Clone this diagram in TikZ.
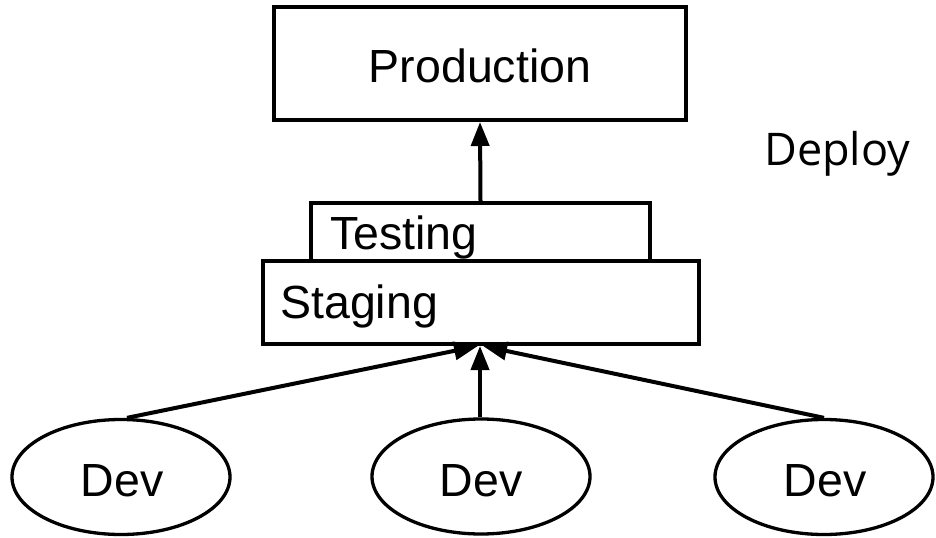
\documentclass[tikz,border=0pt]{standalone}
\usepackage{fontspec}
\setmainfont{Liberation Sans}
\newfontfamily\deployfont{Open Sans}
\usetikzlibrary{shapes.geometric,arrows.meta}

\begin{document}
\begin{tikzpicture}[x=1bp,y=-1bp,
  box/.style={draw,line width=4bp,fill=white,inner sep=0pt,rectangle},
  devnode/.style={draw,line width=3.3bp,ellipse,inner sep=0pt,
    minimum width=218bp,minimum height=115bp},
  lbl/.style={inner sep=0pt,font=\fontsize{46.5bp}{56bp}\selectfont},
  link/.style={line width=4bp,-{Triangle[length=24bp,width=18bp]}}]
\useasboundingbox (0,0) rectangle (936,538);

% environment boxes
\node[box,minimum width=412bp,minimum height=113bp] (prod) at (480,63.5) {};
\node[box,minimum width=339bp,minimum height=58bp] (test) at (480.5,232) {};
\node[box,minimum width=436bp,minimum height=83bp] (stag) at (481,302.5) {};

% box captions
\node[lbl,anchor=base] (prodtxt) at (480,83) {Production};
\node[lbl,anchor=base west] (testtxt) at (330,250) {Testing};
\node[lbl,anchor=base west] (stagtxt) at (280,319) {Staging};

% side caption
\node[inner sep=0pt,anchor=base west,font=\deployfont\fontsize{45bp}{54bp}\selectfont]
  (deploy) at (764,166) {Deploy};

% developer machines
\node[devnode] (dev1) at (121,477) {};
\node[devnode] (dev2) at (481,476.5) {};
\node[devnode] (dev3) at (824,477) {};
\node[lbl,anchor=base] (dev1txt) at (122,496) {Dev};
\node[lbl,anchor=base] (dev2txt) at (481,496) {Dev};
\node[lbl,anchor=base] (dev3txt) at (825,496) {Dev};

% promotion arrows
\draw[link] ([xshift=6bp]dev1.north) -- ([xshift=-3bp]stag.south);
\draw[link] ([xshift=-1bp]dev2.north) -- ([xshift=-1bp]stag.south);
\draw[link] (dev3.north) -- ([xshift=2bp]stag.south);
\draw[link] (test.north) -- (prod.south);
\end{tikzpicture}
\end{document}
